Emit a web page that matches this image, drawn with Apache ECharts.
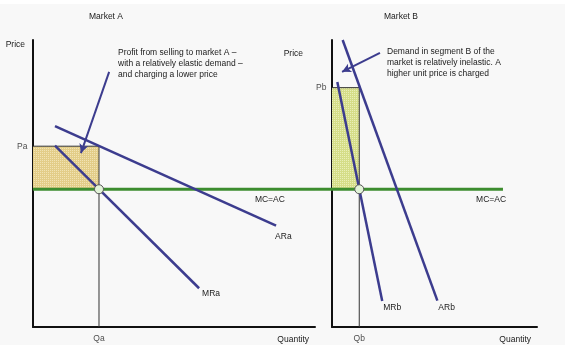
<!DOCTYPE html>
<html>
<head>
<meta charset="utf-8">
<script src="https://cdn.jsdelivr.net/npm/echarts@6/dist/echarts.min.js"></script>
<style>
html, body { margin: 0; padding: 0; background: #ffffff; }
#chart { width: 565px; height: 345px; }
</style>
</head>
<body>
<div id="chart"></div>
<script>
// 共同成本 MC=AC（两个市场相同）
const mcLevel = 48;

// 市场A：需求弹性较大，价格较低
const pointA = [23.4, 63];              // [Qa, Pa]
const arA = [[7.8, 70.0], [86.2, 35.3]];
const mrA = [[7.8, 63.2], [58.9, 13.5]];
const mcA = [[0, 48], [100, 48]];
const arrowA = [[27, 88.9], [17, 60.6]];

// 两图之间的 MC 连接段
const mcBridge = [[0, 48], [1, 48]];

// 市场B：需求缺乏弹性，价格较高
const pointB = [13.3, 83.4];            // [Qb, Pb]
const arB = [[5.2, 100], [51.4, 9.2]];
const mrB = [[2.6, 85.4], [24.5, 9.1]];
const mcB = [[0, 48], [83.4, 48]];
const arrowB = [[23.4, 95.5], [4.9, 88.9]];

const textA = 'Profit from selling to market A \u2013\nwith a relatively elastic demand \u2013\nand charging a lower price';
const textB = 'Demand in segment B of the\nmarket is relatively inelastic. A\nhigher unit price is charged';

const FONT = 'Liberation Sans';
const INK = '#1a1a1a';
const CURVE = '#3c3c8e';
const GREEN = '#3d8d2f';

// 点状填充图案
function dotPattern(base, dot) {
    const c = document.createElement('canvas');
    c.width = 2; c.height = 2;
    const ctx = c.getContext('2d');
    ctx.fillStyle = base;
    ctx.fillRect(0, 0, 2, 2);
    ctx.fillStyle = dot;
    ctx.fillRect(0, 0, 1, 1);
    return { image: c, repeat: 'repeat' };
}

function axisPair(idx) {
    const line = { show: true, onZero: false, lineStyle: { color: '#111', width: 2 } };
    return {
        x: {
            type: 'value', gridIndex: idx, min: 0, max: 100,
            axisLine: line, axisTick: { show: false }, axisLabel: { show: false }, splitLine: { show: false },
            name: 'Quantity', nameLocation: 'end', nameGap: -6,
            nameTextStyle: { fontFamily: FONT, fontSize: 8.5, color: INK, align: 'right', verticalAlign: 'top', padding: [8, 0, 0, 0] }
        },
        y: {
            type: 'value', gridIndex: idx, min: 0, max: 100,
            axisLine: line, axisTick: { show: false }, axisLabel: { show: false }, splitLine: { show: false },
            name: 'Price', nameLocation: 'end', nameGap: idx === 0 ? 0 : -9,
            nameTextStyle: { fontFamily: FONT, fontSize: 8.5, color: INK, align: 'right', verticalAlign: 'top', padding: [0, idx === 0 ? 8 : 29, 0, 0] }
        }
    };
}

// 连接段用的隐藏坐标轴
const hiddenX = { type: 'value', gridIndex: 2, min: 0, max: 1, show: false };
const hiddenY = { type: 'value', gridIndex: 2, min: 0, max: 100, show: false };

function curve(data, idx, name, offset) {
    return {
        type: 'line', xAxisIndex: idx, yAxisIndex: idx, data: data,
        symbol: 'none', silent: true, z: 4,
        lineStyle: { color: CURVE, width: 2.5 },
        endLabel: { show: true, formatter: name, distance: 0, offset: offset, fontFamily: FONT, fontSize: 8.5, color: INK }
    };
}

function mcLine(data, idx, labelX) {
    const s = {
        type: 'line', xAxisIndex: idx, yAxisIndex: idx, data: data,
        symbol: 'none', silent: true, clip: false, z: 3,
        lineStyle: { color: GREEN, width: 3 }
    };
    if (labelX != null) {
        s.markPoint = {
            symbol: 'circle', symbolSize: 0, silent: true,
            label: { show: true, formatter: 'MC=AC', position: 'bottom', distance: 6, fontFamily: FONT, fontSize: 8.5, color: INK },
            data: [{ coord: [labelX, mcLevel] }]
        };
    }
    return s;
}

function guides(pt, idx, pName, qName, fill) {
    return [{
        type: 'line', xAxisIndex: idx, yAxisIndex: idx,
        data: [[0, pt[1]], [pt[0], pt[1]], [pt[0], 0]],
        symbol: 'none', silent: true, z: 2,
        lineStyle: { color: '#333', width: 1 },
        markArea: {
            silent: true,
            itemStyle: { color: fill },
            data: [[{ coord: [0, pt[1]] }, { coord: [pt[0], mcLevel] }]]
        }
    }, {
        type: 'scatter', xAxisIndex: idx, yAxisIndex: idx, silent: true, z: 5,
        symbolSize: 1, itemStyle: { color: 'rgba(0,0,0,0)' },
        data: [
            { value: [0, pt[1]], label: { show: true, formatter: pName, position: 'left', distance: 5 } },
            { value: [pt[0], 0], label: { show: true, formatter: qName, position: 'bottom', distance: 7 } }
        ],
        label: { fontFamily: FONT, fontSize: 8.5, color: INK }
    }, {
        type: 'scatter', xAxisIndex: idx, yAxisIndex: idx, silent: true, z: 6,
        data: [[pt[0], mcLevel]], symbol: 'circle', symbolSize: 9,
        itemStyle: { color: '#e2f3d8', borderColor: '#555', borderWidth: 1, opacity: 1 }
    }];
}

function arrow(pts, idx) {
    return {
        type: 'line', xAxisIndex: idx, yAxisIndex: idx, data: [], silent: true,
        markLine: {
            silent: true, symbol: ['none', 'arrow'], symbolSize: [7, 9],
            label: { show: false },
            lineStyle: { color: CURVE, width: 2, type: 'solid' },
            data: [[{ coord: pts[0] }, { coord: pts[1] }]]
        }
    };
}

const chart = echarts.init(document.getElementById('chart'), null, { renderer: 'canvas' });
const axA = axisPair(0), axB = axisPair(1);

chart.setOption({
    backgroundColor: '#f8f8f8',
    animation: false,
    title: [
        { text: 'Market A', left: 101, top: 7, textAlign: 'center', textStyle: { fontFamily: FONT, fontSize: 8.5, fontWeight: 'normal', color: INK } },
        { text: 'Market B', left: 396, top: 7, textAlign: 'center', textStyle: { fontFamily: FONT, fontSize: 8.5, fontWeight: 'normal', color: INK } }
    ],
    graphic: [
        { type: 'rect', shape: { x: 0, y: 0, width: 565, height: 4 }, style: { fill: '#ffffff' }, silent: true },
        { type: 'text', left: 118, top: 47, silent: true, style: { text: textA, fontFamily: FONT, fontSize: 8.5, lineHeight: 11, fill: INK } },
        { type: 'text', left: 387, top: 46, silent: true, style: { text: textB, fontFamily: FONT, fontSize: 8.5, lineHeight: 11, fill: INK } }
    ],
    grid: [
        { left: 33, top: 40, width: 282, height: 287 },
        { left: 332, top: 40, width: 205, height: 287 },
        { left: 315, top: 40, width: 17, height: 287 }
    ],
    xAxis: [axA.x, axB.x, hiddenX],
    yAxis: [axA.y, axB.y, hiddenY],
    series: [
        ...guides(pointA, 0, 'Pa', 'Qa', dotPattern('#e3cd88', '#f1e3b4')),
        ...guides(pointB, 1, 'Pb', 'Qb', dotPattern('#d5dd88', '#e9efb8')),
        mcLine(mcA, 0, 84),
        mcLine(mcBridge, 2, null),
        mcLine(mcB, 1, 77.6),
        curve(arA, 0, 'ARa', [-1, 11]),
        curve(mrA, 0, 'MRa', [3, 5]),
        curve(arB, 1, 'ARb', [1, 7]),
        curve(mrB, 1, 'MRb', [1, 7]),
        arrow(arrowA, 0),
        arrow(arrowB, 1)
    ]
});
</script>
</body>
</html>
